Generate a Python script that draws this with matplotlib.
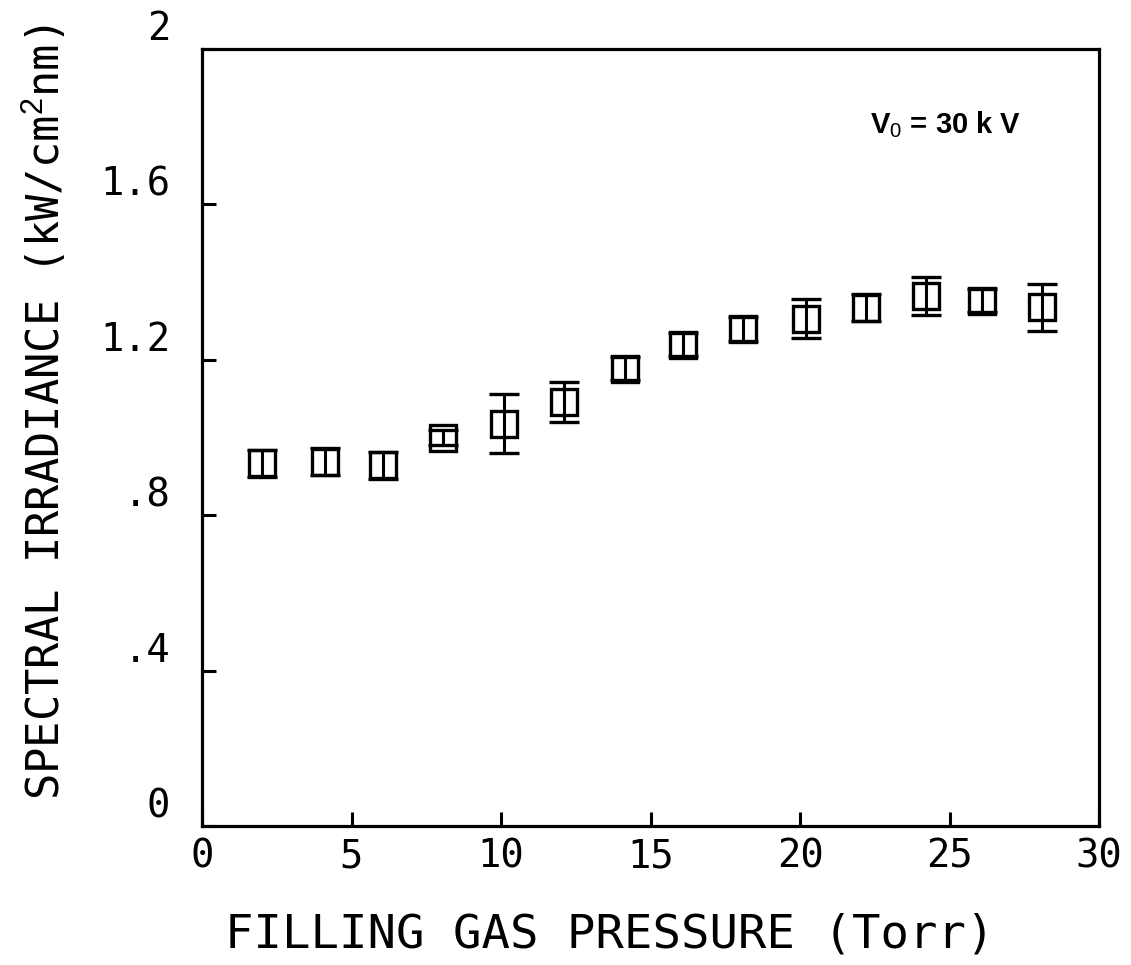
import matplotlib
matplotlib.use("Agg")
import matplotlib.pyplot as plt
from matplotlib.transforms import ScaledTranslation

# ---- data ----
pressure = [2.0, 4.1, 6.05, 8.05, 10.1, 12.1, 14.15, 16.1, 18.1, 20.2, 22.2, 24.2, 26.1, 28.1]
irradiance = [0.934, 0.938, 0.928, 1.0, 1.036, 1.091, 1.177, 1.239, 1.279, 1.306, 1.334, 1.365, 1.352, 1.335]
error = [0.035, 0.035, 0.035, 0.02, 0.075, 0.052, 0.03, 0.03, 0.03, 0.05, 0.035, 0.049, 0.03, 0.06]

xticks = [0, 5, 10, 15, 20, 25, 30]
xticklabels = ["0", "5", "10", "15", "20", "25", "30"]
yticks = [0, 0.4, 0.8, 1.2, 1.6, 2.0]
yticklabels = ["0", ".4", ".8", "1.2", "1.6", "2"]

xlabel = "FILLING GAS PRESSURE (Torr)"
ylabel = "SPECTRAL IRRADIANCE (kW/cm$^2$nm)"
annotation = "V$_0$ = 30 k V"

plt.rcParams["mathtext.fontset"] = "custom"
plt.rcParams["mathtext.rm"] = "DejaVu Sans Mono"
plt.rcParams["mathtext.default"] = "rm"

fig = plt.figure(figsize=(11.31, 9.65), dpi=100)
W, H = 1131, 965
left, right, top, bottom = 202, 1099, 49, 826
ax = fig.add_axes([left / W, 1 - bottom / H, (right - left) / W, (bottom - top) / H])

ax.errorbar(pressure, irradiance, yerr=error, fmt="s", mfc="none", mec="black",
            ms=19, mew=2.4, ecolor="black", elinewidth=2.2, capsize=11, capthick=2.6,
            color="black")

ax.set_xlim(0, 30)
ax.set_ylim(0, 2)
for s in ax.spines.values():
    s.set_linewidth(2.3)

mono = "DejaVu Sans Mono"
ax.set_xticks(xticks)
ax.set_xticklabels(xticklabels, fontsize=28, family=mono)
ax.set_yticks(yticks)
ax.set_yticklabels(yticklabels, fontsize=28, family=mono)
ax.tick_params(axis="both", direction="in", width=2.2, length=10)
ax.tick_params(axis="x", pad=8)
ax.tick_params(axis="y", pad=23)

offset = ScaledTranslation(0, 24 / 100, fig.dpi_scale_trans)
for lab in ax.get_yticklabels():
    lab.set_transform(lab.get_transform() + offset)

fig.text(610 / W, 1 - 935 / H, xlabel, fontsize=34, family=mono, ha="center", va="center")
fig.text(45 / W, 1 - 412 / H, ylabel, fontsize=31.5, family=mono, ha="center", va="center",
         rotation=90)

plt.rcParams["mathtext.rm"] = "Liberation Sans"
fig.text(870 / W, 1 - 125 / H, annotation, fontsize=21, family="Liberation Sans",
         fontweight="bold", ha="left", va="center")

fig.savefig("out.png", dpi=100)
